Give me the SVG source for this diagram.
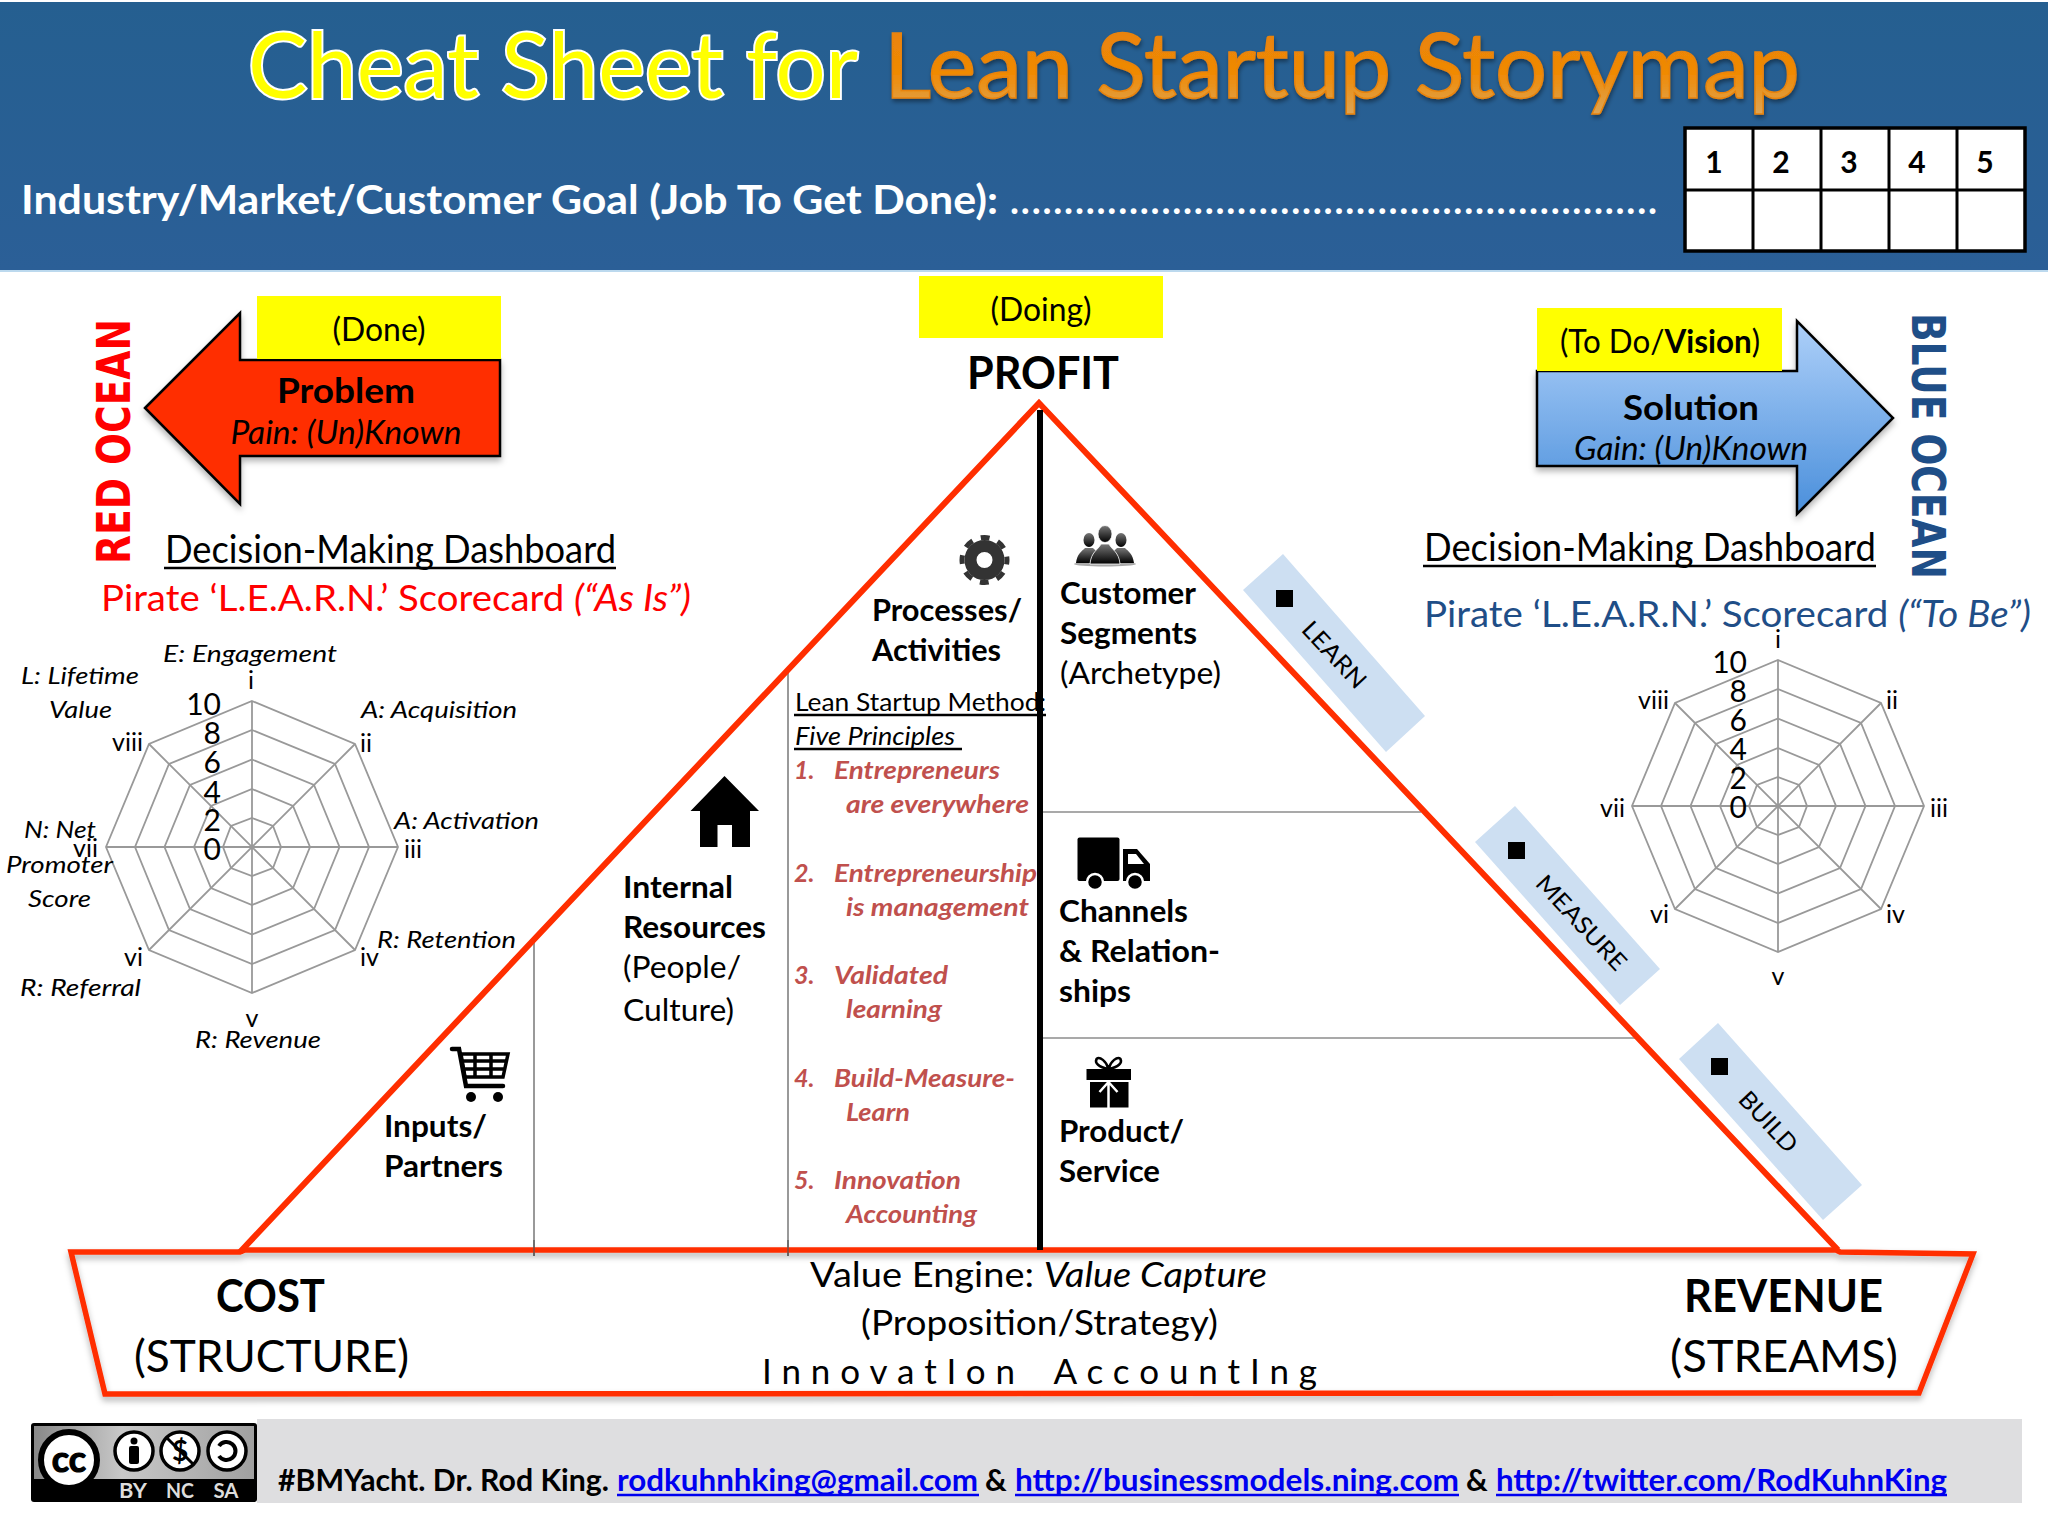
<svg xmlns="http://www.w3.org/2000/svg" width="2048" height="1536" viewBox="0 0 2048 1536">
<style>
text{font-family:Lato,"Liberation Sans",sans-serif;fill:#000}
.b{font-weight:700}.i{font-style:italic}
.c{text-anchor:middle}.e{text-anchor:end}
.ul{stroke:#000;stroke-width:2.5}
.link{fill:#0000f0;font-weight:700}
.ull{stroke:#0000f0;stroke-width:2.5}
.web{fill:none;stroke:#999;stroke-width:1.8}
.num{font-size:30px;text-anchor:end}
.cat{font-size:25px}
.rl{font-size:24px;font-style:italic}
.h{font-size:31px;font-weight:700}
.r{font-size:31px}
.p{font-size:25px;font-weight:700;font-style:italic;fill:#c0504d}
.tag{fill:#cddff2}
.red{fill:none;stroke:#ff2e00;stroke-linejoin:miter}
.thin{stroke:#555;stroke-width:1.2}
.yel{fill:#ff0}
</style>
<defs>
<linearGradient id="hdr" x1="0" y1="0" x2="0" y2="1"><stop offset="0" stop-color="#255f90"/><stop offset="1" stop-color="#2b5f97"/></linearGradient>
<linearGradient id="org" x1="0" y1="0" x2="0" y2="1"><stop offset="0" stop-color="#e57f0c"/><stop offset="0.6" stop-color="#f08a04"/><stop offset="1" stop-color="#d9a860"/></linearGradient>
<linearGradient id="blu" x1="0" y1="0" x2="0" y2="1"><stop offset="0" stop-color="#aed0f9"/><stop offset="1" stop-color="#4a8fdb"/></linearGradient>
<linearGradient id="ppl" x1="0" y1="0" x2="0" y2="1"><stop offset="0" stop-color="#777"/><stop offset="1" stop-color="#000"/></linearGradient>
<linearGradient id="ccg" x1="0" y1="0" x2="1" y2="0"><stop offset="0" stop-color="#888"/><stop offset="0.4" stop-color="#c8c8c8"/><stop offset="1" stop-color="#a0a0a0"/></linearGradient>
<filter id="sh" x="-10%" y="-10%" width="120%" height="125%"><feDropShadow dx="0" dy="4" stdDeviation="3" flood-color="#000" flood-opacity="0.3"/></filter>
<filter id="ts" x="-5%" y="-20%" width="110%" height="140%"><feDropShadow dx="1" dy="3" stdDeviation="2" flood-color="#000" flood-opacity="0.4"/></filter>
<g id="radar">
<polygon class="web" points="0,-146 103,-103 146,0 103,103 0,146 -103,103 -146,0 -103,-103"/>
<polygon class="web" points="0,-117 83,-83 117,0 83,83 0,117 -83,83 -117,0 -83,-83"/>
<polygon class="web" points="0,-87.500 62,-62 87.500,0 62,62 0,87.500 -62,62 -87.500,0 -62,-62"/>
<polygon class="web" points="0,-58 41,-41 58,0 41,41 0,58 -41,41 -58,0 -41,-41"/>
<polygon class="web" points="0,-29 21,-21 29,0 21,21 0,29 -21,21 -29,0 -21,-21"/>
<path class="web" d="M0-146V146M-146 0H146M-103-103 103 103M-103 103 103-103"/>
</g>
</defs>
<rect width="2048" height="1536" fill="#fff"/>

<g id="header">
<rect x="0" y="2" width="2048" height="269" fill="url(#hdr)"/>
<rect x="0" y="270" width="2048" height="2" fill="#bcd9ee"/>
<text x="248" y="98" font-size="92" textLength="610" lengthAdjust="spacingAndGlyphs" style="fill:#ffff00;stroke:#fff;stroke-width:4;paint-order:stroke">Cheat Sheet for</text>
<text x="884" y="98" font-size="92" textLength="916" lengthAdjust="spacingAndGlyphs" filter="url(#ts)" style="fill:url(#org);stroke:#e8830a;stroke-width:1.5">Lean Startup Storymap</text>
<text x="21" y="214" font-size="41" class="b" textLength="977" lengthAdjust="spacingAndGlyphs" style="fill:#fff">Industry/Market/Customer Goal (Job To Get Done):</text>
<text x="1010" y="214" font-size="38" class="b" textLength="647" lengthAdjust="spacing" style="fill:#fff">............................................................</text>
</g>

<g id="score-table">
<rect x="1685" y="128" width="340" height="123" fill="#fff" stroke="#000" stroke-width="3.500"/>
<path d="M1685 190H2025M1753 128V251M1821 128V251M1889 128V251M1957 128V251" stroke="#000" stroke-width="3" fill="none"/>
<text x="1714" y="173" font-size="30" class="b c">1</text>
<text x="1781" y="173" font-size="30" class="b c">2</text>
<text x="1849" y="173" font-size="30" class="b c">3</text>
<text x="1917" y="173" font-size="30" class="b c">4</text>
<text x="1985" y="173" font-size="30" class="b c">5</text>
</g>

<g id="red-ocean">
<text transform="translate(130 564) rotate(-90)" font-size="47" textLength="245" lengthAdjust="spacingAndGlyphs" style="font-family:'DejaVu Sans',sans-serif;font-weight:700;fill:#f00">RED OCEAN</text>
</g>

<g id="problem">
<polygon points="145,408 240,313 240,360 500,360 500,456 240,456 240,504" fill="#ff2e00" stroke="#000" stroke-width="2.500" filter="url(#sh)"/>
<rect class="yel" x="257" y="296" width="244" height="63"/>
<text x="379" y="341" font-size="32" class="c" textLength="93" lengthAdjust="spacingAndGlyphs">(Done)</text>
<text x="346" y="403" font-size="35" class="b c" textLength="138" lengthAdjust="spacingAndGlyphs">Problem</text>
<text x="346" y="444" font-size="32" class="i c" textLength="231" lengthAdjust="spacingAndGlyphs">Pain: (Un)Known</text>
</g>

<g id="dashboard-left">
<text x="165" y="563" font-size="38" textLength="451" lengthAdjust="spacingAndGlyphs">Decision-Making Dashboard</text>
<line class="ul" x1="164" y1="568" x2="616" y2="568"/>
<text x="101" y="611" font-size="37" textLength="590" lengthAdjust="spacingAndGlyphs" style="fill:#f00">Pirate ‘L.E.A.R.N.’ Scorecard <tspan class="i" style="fill:#f00">(“As Is”)</tspan></text>
</g>

<g id="radar-left">
<use href="#radar" x="252" y="847"/>
<text class="num" x="221" y="715">10</text><text class="num" x="221" y="744">8</text><text class="num" x="221" y="773">6</text><text class="num" x="221" y="803">4</text><text class="num" x="221" y="831">2</text><text class="num" x="221" y="860">0</text>
<text class="cat c" x="251" y="689">i</text>
<text class="cat" x="360" y="752">ii</text>
<text class="cat" x="404" y="858">iii</text>
<text class="cat" x="360" y="966">iv</text>
<text class="cat c" x="252" y="1027">v</text>
<text class="cat e" x="143" y="966">vi</text>
<text class="cat e" x="98" y="857">vii</text>
<text class="cat e" x="143" y="751">viii</text>
<text class="rl" x="163" y="662" textLength="174" lengthAdjust="spacingAndGlyphs">E: Engagement</text>
<text class="rl" x="21" y="684" textLength="118" lengthAdjust="spacingAndGlyphs">L: Lifetime</text>
<text class="rl" x="49" y="718" textLength="63" lengthAdjust="spacingAndGlyphs">Value</text>
<text class="rl" x="361" y="718" textLength="156" lengthAdjust="spacingAndGlyphs">A: Acquisition</text>
<text class="rl" x="394" y="829" textLength="145" lengthAdjust="spacingAndGlyphs">A: Activation</text>
<text class="rl" x="24" y="838" textLength="72" lengthAdjust="spacingAndGlyphs">N: Net</text>
<text class="rl" x="6" y="873" textLength="107" lengthAdjust="spacingAndGlyphs">Promoter</text>
<text class="rl" x="28" y="907" textLength="63" lengthAdjust="spacingAndGlyphs">Score</text>
<text class="rl" x="377" y="948" textLength="139" lengthAdjust="spacingAndGlyphs">R: Retention</text>
<text class="rl" x="20" y="996" textLength="121" lengthAdjust="spacingAndGlyphs">R: Referral</text>
<text class="rl" x="195" y="1048" textLength="126" lengthAdjust="spacingAndGlyphs">R: Revenue</text>
</g>

<g id="doing">
<rect class="yel" x="919" y="276" width="244" height="62"/>
<text x="1041" y="321" font-size="32" class="c" textLength="101" lengthAdjust="spacingAndGlyphs">(Doing)</text>
<text x="967" y="389" font-size="46" class="b" textLength="152" lengthAdjust="spacingAndGlyphs">PROFIT</text>
</g>

<g id="solution">
<polygon points="1537,371 1797,371 1797,321 1893,418 1797,514 1797,466 1537,466" fill="url(#blu)" stroke="#000" stroke-width="2.500" filter="url(#sh)"/>
<rect class="yel" x="1537" y="308" width="245" height="63"/>
<text x="1560" y="353" font-size="32" textLength="200" lengthAdjust="spacingAndGlyphs">(To Do/<tspan class="b">Vision</tspan>)</text>
<text x="1691" y="420" font-size="35" class="b c" textLength="136" lengthAdjust="spacingAndGlyphs">Solution</text>
<text x="1691" y="460" font-size="32" class="i c" textLength="234" lengthAdjust="spacingAndGlyphs">Gain: (Un)Known</text>
</g>

<g id="blue-ocean">
<text transform="translate(1912 313) rotate(90)" font-size="47" textLength="266" lengthAdjust="spacingAndGlyphs" style="font-family:'DejaVu Sans',sans-serif;font-weight:700;fill:#1f4e87">BLUE OCEAN</text>
</g>

<g id="dashboard-right">
<text x="1424" y="561" font-size="38" textLength="452" lengthAdjust="spacingAndGlyphs">Decision-Making Dashboard</text>
<line class="ul" x1="1423" y1="566" x2="1876" y2="566"/>
<text x="1424" y="627" font-size="37" textLength="607" lengthAdjust="spacingAndGlyphs" style="fill:#1f4e87">Pirate ‘L.E.A.R.N.’ Scorecard <tspan class="i" style="fill:#1f4e87">(“To Be”)</tspan></text>
</g>

<g id="radar-right">
<use href="#radar" x="1778" y="806"/>
<text class="num" x="1747" y="673">10</text><text class="num" x="1747" y="702">8</text><text class="num" x="1747" y="731">6</text><text class="num" x="1747" y="760">4</text><text class="num" x="1747" y="789">2</text><text class="num" x="1747" y="818">0</text>
<text class="cat c" x="1778" y="648">i</text>
<text class="cat" x="1886" y="709">ii</text>
<text class="cat" x="1930" y="817">iii</text>
<text class="cat" x="1886" y="923">iv</text>
<text class="cat c" x="1778" y="985">v</text>
<text class="cat e" x="1669" y="923">vi</text>
<text class="cat e" x="1625" y="817">vii</text>
<text class="cat e" x="1669" y="709">viii</text>
</g>

<g id="tags">
<g id="tag-learn"><polygon class="tag" points="1283,554 1425,716 1386,752 1243,590"/><rect x="1276" y="590" width="17" height="17"/>
<text transform="translate(1334 655) rotate(47)" font-size="24" class="c" textLength="82" lengthAdjust="spacingAndGlyphs" dy="8">LEARN</text></g>
<g id="tag-measure"><polygon class="tag" points="1515,806 1660,969 1620,1005 1475,842"/><rect x="1508" y="842" width="17" height="17"/>
<text transform="translate(1581 923) rotate(47)" font-size="24" class="c" textLength="120" lengthAdjust="spacingAndGlyphs" dy="8">MEASURE</text></g>
<g id="tag-build"><polygon class="tag" points="1718,1023 1862,1185 1823,1220 1679,1059"/><rect x="1711" y="1058" width="17" height="17"/>
<text transform="translate(1768 1122) rotate(47)" font-size="24" class="c" textLength="74" lengthAdjust="spacingAndGlyphs" dy="8">BUILD</text></g>
</g>

<g id="connectors">
<line class="thin" x1="534" y1="940" x2="534" y2="1256"/>
<line class="thin" x1="788" y1="668" x2="788" y2="1256"/>
<line class="thin" x1="1040" y1="812" x2="1421" y2="812"/>
<line class="thin" x1="1040" y1="1038" x2="1635" y2="1038"/>
<polygon class="red" stroke-width="5.500" points="71,1252 240,1252 245,1250 1836,1250 1840,1252 1973,1254 1919,1393 105,1394" fill="#fff" filter="url(#sh)"/>
<polyline class="red" stroke-width="6" points="240,1252 1039,403 1838,1250" stroke-linejoin="miter"/>
<line x1="534" y1="1240" x2="534" y2="1256" class="thin"/>
<line x1="788" y1="1240" x2="788" y2="1256" class="thin"/>
<line x1="1040" y1="410" x2="1040" y2="1250" stroke="#000" stroke-width="6"/>
</g>

<g id="processes">
<g fill="none" stroke="#333"><circle cx="984.500" cy="560" r="14" stroke-width="12"/><circle cx="984.500" cy="560" r="22.500" stroke-width="5" stroke-dasharray="9 8.670" stroke-dashoffset="4.500"/></g>
<text class="h" x="872" y="621" textLength="150" lengthAdjust="spacingAndGlyphs">Processes/</text>
<text class="h" x="872" y="661" textLength="129" lengthAdjust="spacingAndGlyphs">Activities</text>
</g>

<g id="customer-segments">
<ellipse cx="1105" cy="564" rx="31" ry="2.500" fill="#aaa"/>
<g fill="url(#ppl)"><ellipse cx="1089" cy="540" rx="5.500" ry="7"/><path d="M1076 563c1-9 6-12 9-15h8c3 3 8 6 9 15z"/><ellipse cx="1121" cy="540" rx="5.500" ry="7"/><path d="M1108 563c1-9 6-12 9-15h8c3 3 8 6 9 15z"/></g>
<g fill="url(#ppl)" stroke="#fff" stroke-width="0.800"><ellipse cx="1105" cy="534" rx="7" ry="8.500"/><path d="M1090 564c1-12 8-14 11-20h8c3 6 10 8 11 20z"/></g>
<text class="h" x="1060" y="604" textLength="136" lengthAdjust="spacingAndGlyphs">Customer</text>
<text class="h" x="1060" y="644" textLength="137" lengthAdjust="spacingAndGlyphs">Segments</text>
<text class="r" x="1060" y="684" textLength="161" lengthAdjust="spacingAndGlyphs">(Archetype)</text>
</g>

<g id="lean-method">
<text x="795" y="711" font-size="25" textLength="251" lengthAdjust="spacingAndGlyphs">Lean Startup Method:</text>
<line class="ul" x1="794" y1="715" x2="1046" y2="715"/>
<text x="795" y="745" font-size="25" class="i" textLength="160" lengthAdjust="spacingAndGlyphs">Five Principles</text>
<line class="ul" x1="794" y1="749" x2="962" y2="749"/>
<text class="p" x="794" y="779">1.</text><text class="p" x="834" y="779" textLength="166" lengthAdjust="spacingAndGlyphs">Entrepreneurs</text>
<text class="p" x="846" y="813" textLength="183" lengthAdjust="spacingAndGlyphs">are everywhere</text>
<text class="p" x="794" y="882">2.</text><text class="p" x="834" y="882" textLength="203" lengthAdjust="spacingAndGlyphs">Entrepreneurship</text>
<text class="p" x="846" y="916" textLength="183" lengthAdjust="spacingAndGlyphs">is management</text>
<text class="p" x="794" y="984">3.</text><text class="p" x="834" y="984" textLength="114" lengthAdjust="spacingAndGlyphs">Validated</text>
<text class="p" x="846" y="1018" textLength="96" lengthAdjust="spacingAndGlyphs">learning</text>
<text class="p" x="794" y="1087">4.</text><text class="p" x="834" y="1087" textLength="181" lengthAdjust="spacingAndGlyphs">Build-Measure-</text>
<text class="p" x="846" y="1121" textLength="64" lengthAdjust="spacingAndGlyphs">Learn</text>
<text class="p" x="794" y="1189">5.</text><text class="p" x="834" y="1189" textLength="127" lengthAdjust="spacingAndGlyphs">Innovation</text>
<text class="p" x="846" y="1223" textLength="131" lengthAdjust="spacingAndGlyphs">Accounting</text>
</g>

<g id="internal-resources">
<path d="M724.500 776 759 811H750V847H732V825H717.500V847H700V811H690.500Z"/>
<text class="h" x="623" y="898" textLength="110" lengthAdjust="spacingAndGlyphs">Internal</text>
<text class="h" x="623" y="938" textLength="143" lengthAdjust="spacingAndGlyphs">Resources</text>
<text class="r" x="623" y="978" textLength="118" lengthAdjust="spacingAndGlyphs">(People/</text>
<text class="r" x="623" y="1021" textLength="111" lengthAdjust="spacingAndGlyphs">Culture)</text>
</g>

<g id="channels">
<rect x="1077.500" y="837.500" width="42" height="43.500" rx="2"/>
<path d="M1123 849H1137L1150 864V881H1123Z"/>
<path d="M1128 854H1136L1144 864H1128Z" fill="#fff"/>
<circle cx="1095" cy="882" r="8" stroke="#fff" stroke-width="2.500"/><circle cx="1135" cy="882" r="8" stroke="#fff" stroke-width="2.500"/>
<text class="h" x="1059" y="922" textLength="129" lengthAdjust="spacingAndGlyphs">Channels</text>
<text class="h" x="1059" y="962" textLength="161" lengthAdjust="spacingAndGlyphs">&amp; Relation-</text>
<text class="h" x="1059" y="1002" textLength="72" lengthAdjust="spacingAndGlyphs">ships</text>
</g>

<g id="product">
<rect x="1086.500" y="1069" width="44.500" height="11"/>
<rect x="1090" y="1082" width="38.500" height="25.500"/>
<path d="M1108.500 1069c-10-2-14-6-12-10 3-3 10 2 12 10 2-8 9-13 12-10 2 4-2 8-12 10z" fill="#fff" stroke="#000" stroke-width="2.500"/>
<path d="M1108.500 1080v28M1108.500 1082l-9 10M1108.500 1082l9 10" stroke="#fff" stroke-width="2.500" fill="none"/>
<text class="h" x="1059" y="1142" textLength="125" lengthAdjust="spacingAndGlyphs">Product/</text>
<text class="h" x="1059" y="1182" textLength="101" lengthAdjust="spacingAndGlyphs">Service</text>
</g>

<g id="inputs">
<path d="M452 1049H459L466 1086H503" fill="none" stroke="#000" stroke-width="4.500" stroke-linecap="round"/>
<path d="M461 1054H508L503 1077H465ZM461 1061H506M463 1069H505M475 1054V1077M491 1054V1077" fill="none" stroke="#000" stroke-width="3.500"/>
<circle cx="471" cy="1097" r="5"/><circle cx="498" cy="1097" r="5"/>
<text class="h" x="384" y="1137" textLength="103" lengthAdjust="spacingAndGlyphs">Inputs/</text>
<text class="h" x="384" y="1177" textLength="119" lengthAdjust="spacingAndGlyphs">Partners</text>
</g>

<g id="cost">
<text x="216" y="1312" font-size="45" class="b" textLength="109" lengthAdjust="spacingAndGlyphs">COST</text>
<text x="134" y="1372" font-size="45" textLength="275" lengthAdjust="spacingAndGlyphs">(STRUCTURE)</text>
</g>
<g id="value-engine">
<text x="810" y="1287" font-size="35" textLength="457" lengthAdjust="spacingAndGlyphs">Value Engine: <tspan class="i">Value Capture</tspan></text>
<text x="861" y="1335" font-size="35" textLength="357" lengthAdjust="spacingAndGlyphs">(Proposition/Strategy)</text>
<text x="762" y="1384" font-size="35" textLength="555" lengthAdjust="spacing" word-spacing="-4" xml:space="preserve">InnovatIon  AccountIng</text>
</g>
<g id="revenue">
<text x="1684" y="1312" font-size="45" class="b" textLength="199" lengthAdjust="spacingAndGlyphs">REVENUE</text>
<text x="1670" y="1372" font-size="45" textLength="228" lengthAdjust="spacingAndGlyphs">(STREAMS)</text>
</g>

<g id="footer">
<rect x="257" y="1419" width="1765" height="84" fill="#dedee0"/>
<g id="cc-badge">
<rect x="31" y="1423" width="226" height="79" rx="3" fill="#000"/>
<rect x="34" y="1426" width="220" height="53" fill="url(#ccg)"/>
<circle cx="69" cy="1460" r="28" fill="#fff" stroke="#000" stroke-width="6"/>
<text x="69" y="1472" font-size="36" class="b c" style="stroke:#000;stroke-width:1.200">cc</text>
<g fill="#fff" stroke="#000" stroke-width="3.500"><circle cx="134" cy="1451" r="19"/><circle cx="180" cy="1451" r="19"/><circle cx="227" cy="1451" r="19"/></g>
<circle cx="134" cy="1441" r="3.500"/><rect x="129" y="1446" width="10" height="18" rx="2"/>
<text x="180" y="1461" font-size="28" class="b c">$</text>
<line x1="167" y1="1438" x2="193" y2="1464" stroke="#000" stroke-width="3"/>
<path d="M219 1446a9 9 0 1 1 0 10" fill="none" stroke="#000" stroke-width="4"/>
<text x="133" y="1498" font-size="20" class="b c" style="fill:#ddd" textLength="28" lengthAdjust="spacingAndGlyphs">BY</text>
<text x="180" y="1498" font-size="20" class="b c" style="fill:#ddd" textLength="28" lengthAdjust="spacingAndGlyphs">NC</text>
<text x="226" y="1498" font-size="20" class="b c" style="fill:#ddd" textLength="25" lengthAdjust="spacingAndGlyphs">SA</text>
</g>
<text x="278" y="1491" font-size="31" class="b" textLength="331" lengthAdjust="spacingAndGlyphs">#BMYacht. Dr. Rod King.</text>
<text x="617" y="1491" font-size="31" class="link" textLength="361" lengthAdjust="spacingAndGlyphs">rodkuhnhking@gmail.com</text>
<line class="ull" x1="617" y1="1495" x2="979" y2="1495"/>
<text x="985" y="1491" font-size="30" class="b">&amp;</text>
<text x="1015" y="1491" font-size="31" class="link" textLength="444" lengthAdjust="spacingAndGlyphs">http://businessmodels.ning.com</text>
<line class="ull" x1="1015" y1="1495" x2="1459" y2="1495"/>
<text x="1466" y="1491" font-size="30" class="b">&amp;</text>
<text x="1496" y="1491" font-size="31" class="link" textLength="451" lengthAdjust="spacingAndGlyphs">http://twitter.com/RodKuhnKing</text>
<line class="ull" x1="1496" y1="1495" x2="1947" y2="1495"/>
</g>
</svg>
